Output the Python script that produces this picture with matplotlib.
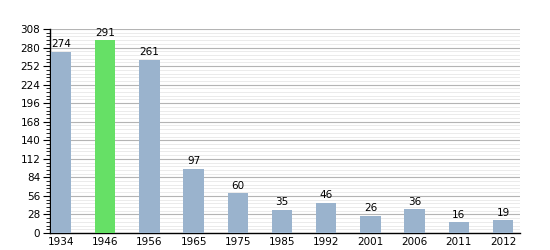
import matplotlib
matplotlib.use("Agg")
import matplotlib.pyplot as plt
from matplotlib.ticker import MultipleLocator

years = ["1934", "1946", "1956", "1965", "1975", "1985", "1992", "2001", "2006", "2011", "2012"]
values = [274, 291, 261, 97, 60, 35, 46, 26, 36, 16, 19]
highlight = "1946"

fig = plt.figure(figsize=(5.5, 2.5), dpi=100)
ax = fig.add_axes([0.091, 0.068, 0.854, 0.816])

x = list(range(len(years)))
colors = ["#66e066" if y == highlight else "#9ab3cd" for y in years]
ax.bar(x, values, width=0.46, color=colors, zorder=3)
for xi, v in zip(x, values):
    ax.text(xi, v + 4, str(v), ha="center", va="bottom", fontsize=7.5, zorder=4)

ax.set_xlim(-0.25, 10.38)
ax.set_ylim(0, 308)
ax.yaxis.set_major_locator(MultipleLocator(28))
ax.yaxis.set_minor_locator(MultipleLocator(5.6))
ax.set_xticks(x)
ax.set_xticklabels(years)
ax.grid(axis="y", which="major", color="#b4b4b4", linewidth=0.8, zorder=0)
ax.grid(axis="y", which="minor", color="#e8e8e8", linewidth=0.6, zorder=0)

for s in ["top", "right"]:
    ax.spines[s].set_visible(False)
ax.spines["left"].set_linewidth(1.0)
ax.spines["bottom"].set_linewidth(1.0)
ax.tick_params(axis="y", which="major", length=5, width=0.8, labelsize=7.5, pad=2)
ax.tick_params(axis="y", which="minor", length=3, width=0.6)
ax.tick_params(axis="x", length=0, labelsize=7.5, pad=3)

fig.savefig("out.png", dpi=100)
